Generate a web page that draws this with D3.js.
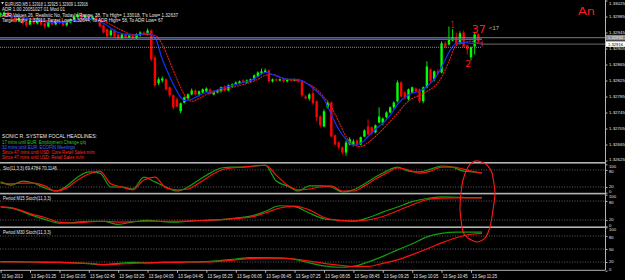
<!DOCTYPE html>
<meta charset="utf-8">
<title>EURUSD,M5</title>
<style>
  body { margin: 0; background: #000; }
  svg { display: block; font-family: "Liberation Sans", Arial, sans-serif; }
</style>
<body>
<script src="https://d3js.org/d3.v7.min.js"></script>
<script>
// ---- data ----
// one row per M5 bar: [open, high, low, close]
var candles = [
  [1.32985,1.32995,1.32983,1.32993],[1.32990,1.32998,1.32988,1.32995],[1.32995,1.32998,1.32985,1.32988],
  [1.32990,1.32993,1.32978,1.32980],[1.32983,1.32985,1.32970,1.32973],[1.32975,1.32988,1.32973,1.32983],
  [1.32983,1.32985,1.32965,1.32968],[1.32973,1.32975,1.32958,1.32963],[1.32965,1.32980,1.32963,1.32975],
  [1.32975,1.32978,1.32965,1.32968],[1.32968,1.32983,1.32965,1.32978],[1.32978,1.32980,1.32963,1.32965],
  [1.32968,1.32970,1.32955,1.32960],[1.32960,1.32978,1.32958,1.32975],[1.32973,1.32975,1.32963,1.32965],
  [1.32965,1.32978,1.32963,1.32973],[1.32973,1.32975,1.32965,1.32968],[1.32970,1.32973,1.32960,1.32963],
  [1.32963,1.32975,1.32960,1.32973],[1.32970,1.32980,1.32968,1.32978],[1.32975,1.32988,1.32973,1.32985],
  [1.32983,1.32995,1.32980,1.32990],[1.32990,1.32993,1.32978,1.32980],[1.32980,1.32990,1.32978,1.32988],
  [1.32988,1.32990,1.32975,1.32978],[1.32978,1.32988,1.32975,1.32985],[1.32985,1.32988,1.32973,1.32975],
  [1.32978,1.32980,1.32958,1.32960],[1.32963,1.32965,1.32943,1.32945],[1.32953,1.32955,1.32933,1.32935],
  [1.32938,1.32953,1.32935,1.32950],[1.32950,1.32953,1.32933,1.32935],[1.32940,1.32943,1.32928,1.32930],
  [1.32930,1.32943,1.32928,1.32940],[1.32940,1.32943,1.32930,1.32933],[1.32933,1.32940,1.32930,1.32938],
  [1.32938,1.32940,1.32928,1.32930],[1.32930,1.32943,1.32928,1.32940],[1.32938,1.32948,1.32935,1.32945],
  [1.32945,1.32948,1.32938,1.32940],[1.32940,1.32955,1.32938,1.32950],[1.32950,1.32953,1.32873,1.32878],
  [1.32883,1.32888,1.32808,1.32813],[1.32818,1.32833,1.32813,1.32828],[1.32825,1.32835,1.32820,1.32830],
  [1.32828,1.32830,1.32800,1.32803],[1.32808,1.32810,1.32783,1.32788],[1.32788,1.32790,1.32753,1.32758],
  [1.32778,1.32783,1.32758,1.32760],[1.32748,1.32770,1.32743,1.32768],[1.32770,1.32785,1.32768,1.32783],
  [1.32780,1.32793,1.32778,1.32790],[1.32790,1.32805,1.32788,1.32800],[1.32800,1.32803,1.32788,1.32790],
  [1.32790,1.32800,1.32785,1.32798],[1.32795,1.32805,1.32793,1.32803],[1.32798,1.32808,1.32795,1.32805],
  [1.32803,1.32805,1.32790,1.32793],[1.32790,1.32800,1.32788,1.32798],[1.32795,1.32803,1.32793,1.32800],
  [1.32798,1.32810,1.32795,1.32808],[1.32810,1.32813,1.32798,1.32800],[1.32800,1.32815,1.32798,1.32813],
  [1.32810,1.32818,1.32808,1.32815],[1.32815,1.32823,1.32813,1.32820],[1.32818,1.32825,1.32815,1.32823],
  [1.32825,1.32828,1.32818,1.32820],[1.32820,1.32828,1.32818,1.32825],[1.32823,1.32830,1.32820,1.32828],
  [1.32828,1.32840,1.32825,1.32838],[1.32835,1.32848,1.32833,1.32845],[1.32843,1.32855,1.32840,1.32848],
  [1.32845,1.32855,1.32843,1.32850],[1.32850,1.32853,1.32820,1.32823],[1.32823,1.32830,1.32820,1.32828],
  [1.32828,1.32830,1.32823,1.32825],[1.32825,1.32830,1.32823,1.32828],[1.32828,1.32830,1.32820,1.32823],
  [1.32823,1.32830,1.32820,1.32828],[1.32828,1.32830,1.32823,1.32825],[1.32825,1.32830,1.32823,1.32828],
  [1.32828,1.32830,1.32820,1.32823],[1.32823,1.32825,1.32783,1.32788],[1.32785,1.32788,1.32778,1.32780],
  [1.32780,1.32793,1.32775,1.32790],[1.32793,1.32810,1.32765,1.32768],[1.32773,1.32775,1.32723,1.32733],
  [1.32735,1.32738,1.32708,1.32713],[1.32710,1.32753,1.32708,1.32748],[1.32758,1.32775,1.32755,1.32770],
  [1.32770,1.32773,1.32683,1.32685],[1.32688,1.32690,1.32663,1.32665],[1.32670,1.32673,1.32653,1.32658],
  [1.32658,1.32660,1.32640,1.32645],[1.32645,1.32675,1.32637,1.32670],[1.32665,1.32683,1.32663,1.32678],
  [1.32663,1.32678,1.32660,1.32673],[1.32675,1.32678,1.32660,1.32665],[1.32665,1.32685,1.32663,1.32683],
  [1.32685,1.32703,1.32683,1.32700],[1.32710,1.32728,1.32688,1.32690],[1.32708,1.32710,1.32688,1.32693],
  [1.32695,1.32715,1.32693,1.32713],[1.32720,1.32758,1.32718,1.32735],[1.32718,1.32733,1.32713,1.32730],
  [1.32733,1.32748,1.32730,1.32745],[1.32745,1.32760,1.32743,1.32758],[1.32758,1.32773,1.32753,1.32770],
  [1.32773,1.32825,1.32770,1.32820],[1.32820,1.32823,1.32783,1.32785],[1.32795,1.32798,1.32778,1.32783],
  [1.32778,1.32805,1.32775,1.32803],[1.32795,1.32810,1.32793,1.32808],[1.32805,1.32808,1.32795,1.32798],
  [1.32803,1.32805,1.32768,1.32773],[1.32773,1.32810,1.32768,1.32808],[1.32808,1.32873,1.32805,1.32860],
  [1.32853,1.32855,1.32818,1.32823],[1.32828,1.32850,1.32823,1.32848],[1.32848,1.32853,1.32838,1.32843],
  [1.32845,1.32923,1.32843,1.32918],[1.32918,1.32923,1.32905,1.32910],[1.32915,1.32960,1.32913,1.32928],
  [1.32925,1.32953,1.32923,1.32933],[1.32933,1.32945,1.32913,1.32915],[1.32918,1.32948,1.32915,1.32943],
  [1.32945,1.32950,1.32908,1.32910],[1.32913,1.32915,1.32890,1.32903],[1.32883,1.32910,1.32875,1.32908],
  [1.32910,1.32945,1.32890,1.32940],[1.32940,1.32943,1.32920,1.32923],[1.32918,1.32925,1.32909,1.32916]
];

// moving averages, sampled at these bars
var maBars = d3.range(0, 41, 4).concat(d3.range(42, 131, 2), [131]);
var maBlue = [1.32988,1.32985,1.32978,1.32973,1.32970,1.32975,1.32980,1.32968,1.32945,1.32938,1.32943,
  1.32933,1.32878,1.32835,1.32798,1.32775,1.32778,1.32788,1.32795,1.32798,1.32805,
  1.32810,1.32815,1.32820,1.32825,1.32835,1.32845,1.32840,1.32833,1.32828,1.32828,
  1.32825,1.32813,1.32798,1.32778,1.32740,1.32703,1.32678,1.32663,1.32668,1.32685,
  1.32703,1.32718,1.32738,1.32765,1.32783,1.32793,1.32798,1.32810,1.32828,1.32858,
  1.32895,1.32918,1.32920,1.32918,1.32918,1.32915];
var maRed = [1.32985,1.32985,1.32980,1.32975,1.32973,1.32973,1.32978,1.32973,1.32955,1.32940,1.32940,
  1.32938,1.32915,1.32873,1.32828,1.32790,1.32773,1.32780,1.32790,1.32795,1.32800,
  1.32805,1.32810,1.32815,1.32820,1.32828,1.32838,1.32840,1.32833,1.32828,1.32825,
  1.32823,1.32815,1.32803,1.32783,1.32758,1.32723,1.32685,1.32665,1.32660,1.32670,
  1.32685,1.32703,1.32723,1.32743,1.32765,1.32780,1.32788,1.32798,1.32810,1.32833,
  1.32873,1.32913,1.32920,1.32923,1.32920,1.32918];

// Sto(11,3,3), sampled every 3 bars
var stoBars = d3.range(0, 130, 3).concat([131]);
var stoMain = [38,27,41,34,17,6,24,55,73,69,20,20,13,55,38,20,6,20,45,69,87,90,90,94,97,
  41,24,6,24,24,20,2.5,10,31,55,76,90,76,73,83,94,90,76,73,69.48];
var stoSignal = [34,31,34,34,24,6,17,45,66,76,31,20,10,45,55,17,10,13,34,59,80,87,90,94,97,
  62,27,10,13,20,24,6,6,24,48,69,87,80,69,76,90,90,83,73,70.11];

// Period M15 / M30 Stoch(11,3,3), sampled every 4 bars
var htfBars = d3.range(0, 129, 4).concat([131]);
var m15Main = [61,54,37,22,10,12,16,16,6,14,19,15,13,17,19,21,26,32,47,65,62,42,24,19,16,27,45,61,78,88,93,92,91,91];
var m15Signal = [62,56,40,28,13,10,14,16,13,15,16,16,16,17,19,21,25,29,42,58,64,52,28,19,17,20,31,49,68,84,89,90,90,90];
var m30Main = [21,21,20,20,19,18,16,14,17,19,18,19,20,20,21,24,27,30,30,29,26,18,11,8,10,20,33,48,62,78,86,89,89,89];
var m30Signal = [20,20,20,19,19,18,17,14,15,17,18,19,19,20,20,22,25,28,29,29,27,22,17,13,10,10,17,25,37,50,64,76,84,86];

var priceTicks = [1.33025,1.32985,1.32945,1.32905,1.32865,1.32825,1.32785,1.32745,1.32705,1.32665,1.32625];
var timeBars = d3.range(0, 129, 8);
var timeLabels = ["13 Sep 2013","13 Sep 01:25","13 Sep 02:05","13 Sep 02:45","13 Sep 03:25","13 Sep 04:05",
  "13 Sep 04:45","13 Sep 05:25","13 Sep 06:05","13 Sep 06:45","13 Sep 07:25","13 Sep 08:05",
  "13 Sep 08:45","13 Sep 09:25","13 Sep 10:05","13 Sep 10:45","13 Sep 11:25"];

var infoLines = [
  "EURUSD,M5  1.32918 1.32925 1.32909 1.32916",
  "ADR 1.00 20051027 01 Mod 01",
  "ADR Values 26, Realistic No, Today's Range: 38, T's High= 1.33018, T's Low= 1.32637",
  "Target High= 1.32913, Target Low= 1.32644, To ADR High= 58, To ADR Low= 67"
];
var headlines = [
  "SONIC R. SYSTEM  FOCAL HEADLINES:",
  "17 mins until EUR: Employment Change q/q",
  "32 mins until EUR: ECOFIN Meetings",
  "Since 47 mins until USD: Core Retail Sales m/m",
  "Since 47 mins until USD: Retail Sales m/m"
];

// ---- layout ----
var W = 625, H = 280, plotR = 605, lastBar = 131;
var bull = "#00ff00", bear = "#ff0000", grid = "#b4b4b4", txt = "#e6e6e6";

var x = d3.scaleLinear().domain([0, lastBar]).range([0.6, 482]);
var yMain = d3.scaleLinear().domain([1.32625, 1.33025]).range([160.5, 0.5]);
var ySto = d3.scaleLinear().domain([0, 100]).range([192.7, 164.3]);
var yM15 = d3.scaleLinear().domain([0, 100]).range([226.3, 194.7]);
var yM30 = d3.scaleLinear().domain([0, 100]).range([270.7, 227.3]);

var svg = d3.select("body").append("svg").attr("width", W).attr("height", H);
svg.append("rect").attr("width", W).attr("height", H).attr("fill", "#000");

var defs = svg.append("defs");
function clip(id, y0, y1) {
  defs.append("clipPath").attr("id", id).append("rect")
    .attr("x", 0).attr("y", y0).attr("width", plotR).attr("height", y1 - y0);
}
clip("cMain", 0, 162.5); clip("cSto", 164.5, 193); clip("cM15", 195, 226.5); clip("cM30", 228.3, 270);

function label(g, px, py, s, fill, len, size) {
  var t = g.append("text").attr("x", px).attr("y", py).attr("fill", fill)
    .attr("font-size", size).text(s);
  if (len) t.attr("textLength", len).attr("lengthAdjust", "spacingAndGlyphs");
  return t;
}

// ---- main price panel ----
var gMain = svg.append("g").attr("clip-path", "url(#cMain)");
var bw = 2.4;
var cg = gMain.selectAll("g.candle").data(candles).join("g").attr("class", "candle");
cg.append("line")
  .attr("x1", function(d, i) { return x(i); }).attr("x2", function(d, i) { return x(i); })
  .attr("y1", function(d) { return yMain(d[1]); }).attr("y2", function(d) { return yMain(d[2]); })
  .attr("stroke", function(d) { return d[3] >= d[0] ? bull : bear; }).attr("stroke-width", 0.9);
cg.append("rect")
  .attr("x", function(d, i) { return x(i) - bw / 2; }).attr("width", bw)
  .attr("y", function(d) { return yMain(Math.max(d[0], d[3])); })
  .attr("height", function(d) { return Math.max(0.8, Math.abs(yMain(d[0]) - yMain(d[3]))); })
  .attr("fill", function(d) { return d[3] >= d[0] ? bull : bear; });

var maLine = d3.line()
  .x(function(d, i) { return x(maBars[i]); })
  .y(function(d) { return yMain(d); })
  .curve(d3.curveMonotoneX);
gMain.append("path").attr("d", maLine(maRed)).attr("fill", "none")
  .attr("stroke", "#e81818").attr("stroke-width", 1.1).attr("stroke-dasharray", "2,0.8");
gMain.append("path").attr("d", maLine(maBlue)).attr("fill", "none")
  .attr("stroke", "#1530ff").attr("stroke-width", 1.2);

// horizontal objects
gMain.append("line").attr("x1", 0).attr("x2", plotR)
  .attr("y1", yMain(1.32932)).attr("y2", yMain(1.32932)).attr("stroke", "#9a9a9a").attr("stroke-width", 0.8);
gMain.append("line").attr("x1", 0).attr("x2", x(lastBar))
  .attr("y1", yMain(1.32928)).attr("y2", yMain(1.32928)).attr("stroke", "#4a68b0").attr("stroke-width", 1.6);
gMain.append("line").attr("x1", 0).attr("x2", x(lastBar))
  .attr("y1", yMain(1.32908)).attr("y2", yMain(1.32908)).attr("stroke", "#8a8a8a")
  .attr("stroke-width", 1).attr("stroke-dasharray", "1,1");
gMain.append("line").attr("x1", x(lastBar)).attr("x2", plotR)
  .attr("y1", yMain(1.32916)).attr("y2", yMain(1.32916)).attr("stroke", "#8a8a8a").attr("stroke-width", 0.8);

// info texts
var gTxt = svg.append("g");
var infoLen = [83, 63, 176, 161], infoX = [5, 2, 2, 2], infoY = [5.5, 11, 16.8, 22];
infoLines.forEach(function(s, i) { label(gTxt, infoX[i], infoY[i], s, txt, infoLen[i], 5); });
gTxt.append("path").attr("d", "M1,2 L4,2 L2.5,4.5 Z").attr("fill", "#c8c8c8");

var headCol = [txt, "#2fc82f", "#3c64ff", "#ff2a2a", "#ff2a2a"];
var headLen = [95, 84, 73, 93, 82], headY = [138, 143.5, 148.5, 153.8, 159];
headlines.forEach(function(s, i) { label(gTxt, 2, headY[i], s, headCol[i], headLen[i], i === 0 ? 5.3 : 4.8); });

label(gTxt, 489, 30, "<17", "#bdbdbd", 10, 5);

// ---- oscillator panels ----
function oscPanel(clipId, yS, bars, mainVals, sigVals, levels) {
  var g = svg.append("g").attr("clip-path", "url(#" + clipId + ")");
  levels.forEach(function(v) {
    g.append("line").attr("x1", 0).attr("x2", plotR).attr("y1", yS(v)).attr("y2", yS(v))
      .attr("stroke", "#7a7a7a").attr("stroke-width", 0.8).attr("stroke-dasharray", "1,1.6");
  });
  var ln = d3.line().x(function(d, i) { return x(bars[i]); }).y(function(d) { return yS(d); })
    .curve(d3.curveMonotoneX);
  g.append("path").attr("d", ln(mainVals)).attr("fill", "none").attr("stroke", "#10a010").attr("stroke-width", 1.2);
  g.append("path").attr("d", ln(sigVals)).attr("fill", "none").attr("stroke", "#ff1010").attr("stroke-width", 1.2);
}
oscPanel("cSto", ySto, stoBars, stoMain, stoSignal, [80, 20]);
oscPanel("cM15", yM15, htfBars, m15Main, m15Signal, [80, 20]);
oscPanel("cM30", yM30, htfBars, m30Main, m30Signal, [80, 50, 20]);

label(gTxt, 3, 169.5, "Sto(11,3,3) 69.4784 70.1146", txt, 54, 4.8);
label(gTxt, 3, 200, "Period M15 Stoch(11,3,3)", txt, 48, 4.8);
label(gTxt, 3, 234, "Period M30 Stoch(11,3,3)", txt, 48, 4.8);

// separators and frame
[162.8, 193.6, 227.2].forEach(function(yy) {
  svg.append("rect").attr("x", 0).attr("y", yy - 0.8).attr("width", plotR).attr("height", 1.6).attr("fill", grid);
});
svg.append("line").attr("x1", 0).attr("x2", plotR).attr("y1", 270.3).attr("y2", 270.3).attr("stroke", grid);
svg.append("line").attr("x1", plotR + 0.5).attr("x2", plotR + 0.5).attr("y1", 0).attr("y2", 270.3).attr("stroke", grid);

// ---- axes ----
function styleAxis(g, size) {
  g.select(".domain").remove();
  g.attr("font-size", size).attr("font-family", "'Liberation Sans', Arial, sans-serif");
  g.selectAll("line").attr("stroke", grid);
  g.selectAll("text").attr("fill", txt);
}
var pAxis = svg.append("g").attr("transform", "translate(" + (plotR + 0.5) + ",0)")
  .call(d3.axisRight(yMain).tickValues(priceTicks).tickFormat(d3.format(".5f")).tickSize(2).tickPadding(1.5));
styleAxis(pAxis, 4.4);
pAxis.selectAll("text").attr("dy", function(d) { return d === 1.33025 ? "0.8em" : d === 1.32625 ? "0.1em" : "0.32em"; });

function levelAxis(yS, vals) {
  var a = svg.append("g").attr("transform", "translate(" + (plotR + 0.5) + ",0)")
    .call(d3.axisRight(yS).tickValues(vals).tickSize(2).tickPadding(1.5));
  styleAxis(a, 4.2);
  a.selectAll("text").attr("dy", function(d) {
    return d === 100 ? "0.75em" : d === 80 ? "0.5em" : d === 0 ? "-0.05em" : d === 20 ? "0.15em" : "0.32em";
  });
}
levelAxis(ySto, [100, 80, 20, 0]);
levelAxis(yM15, [100, 80, 20, 0]);
levelAxis(yM30, [100, 80, 50, 20, 0]);

// price boxes on the scale
var boxes = [[1.32932, "#8c8c8c", "#f0f0f0", "1.32932"], [1.32916, "#ffffff", "#000000", "1.32916"]];
boxes.forEach(function(b) {
  var yy = yMain(b[0]);
  svg.append("rect").attr("x", plotR + 1).attr("y", yy - 2.8).attr("width", 19).attr("height", 5.6).attr("fill", b[1]);
  label(svg, plotR + 3, yy + 1.6, b[3], b[2], 15, 4.4);
});

var tAxis = svg.append("g").attr("transform", "translate(0,270.3)")
  .call(d3.axisBottom(x).tickValues(timeBars).tickFormat(function(d, i) { return timeLabels[i]; })
    .tickSize(2.5).tickPadding(2));
styleAxis(tAxis, 4.6);
tAxis.selectAll("text").attr("text-anchor", "start").attr("dx", "0.6")
  .attr("textLength", function(d, i) { return i === 0 ? 21 : 25; }).attr("lengthAdjust", "spacingAndGlyphs");

// ---- hand-drawn annotations ----
var ann = svg.append("g").attr("fill", "#ff1a1a").attr("font-family", "'DejaVu Sans', sans-serif");
label(ann, x(123) - 1.5, yMain(1.32953) - 1, "1", "#ff1a1a", 3, 9);
label(ann, x(129) - 3, yMain(1.32945), "37", "#ff1a1a", 14, 10);
label(ann, x(127) - 2, yMain(1.32890) + 12, "2", "#ff1a1a", 6, 8);
label(ann, 578, 15, "An", "#ff1a1a", 17, 11);

var loop = [[478,161],[487,165],[492,173],[495,193],[493,210],[490,227],[485,238],[477,242],
  [468,238],[463,232],[460,210],[461,193],[463,180],[468,167],[473,162]];
svg.append("path").attr("d", d3.line().curve(d3.curveCardinalClosed.tension(0.3))(loop))
  .attr("fill", "none").attr("stroke", "#ff1a1a").attr("stroke-width", 1.1);
</script>
</body>
